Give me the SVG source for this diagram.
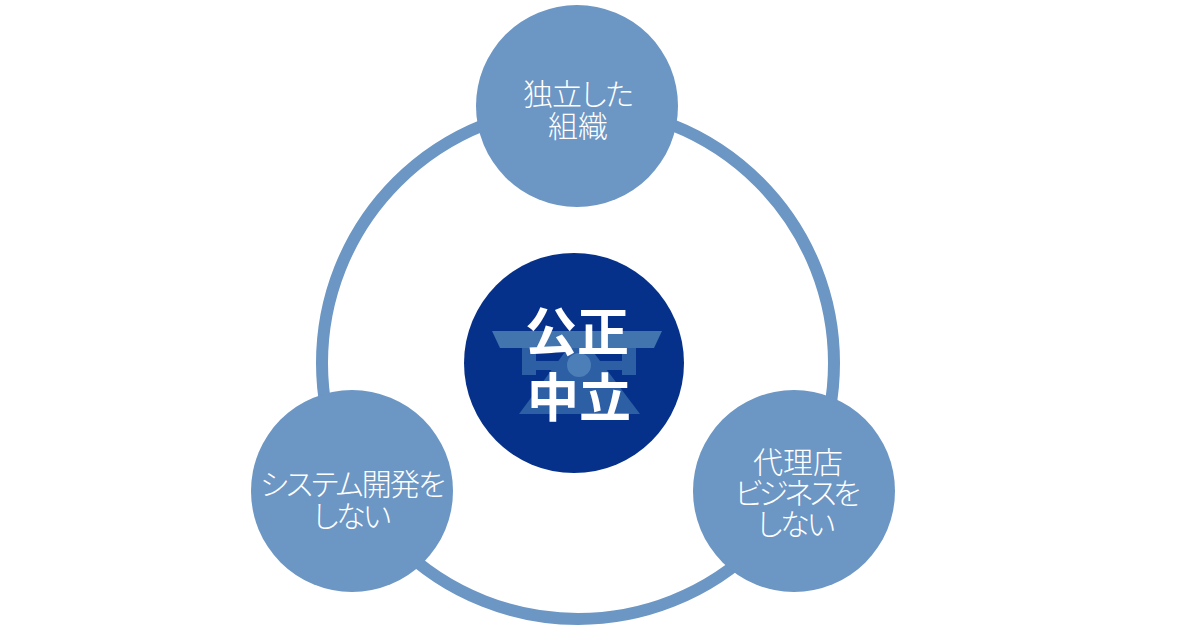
<svg xmlns="http://www.w3.org/2000/svg" width="1200" height="630" viewBox="0 0 1200 630">
<style>
.sat{fill:#6c96c4}
.t{font-family:"Noto Sans CJK JP","Noto Sans",sans-serif;fill:#fff;text-anchor:middle}
.l{font-size:30px;font-weight:300;font-feature-settings:"palt"}
.b{font-size:52px;font-weight:700}
.e1{fill:#4274ad}
.e2{fill:#2d5fa5}
</style>
<rect width="1200" height="630" fill="#fff"/>
<g id="connectors"><circle cx="578" cy="363" r="256" fill="none" stroke="#6c96c4" stroke-width="12"/></g>
<g id="node-top"><circle class="sat" cx="577" cy="106" r="101"/>
<text class="t l" x="578" y="105" letter-spacing="-1">独立した</text><text class="t l" x="578" y="137">組織</text></g>
<g id="node-left"><circle class="sat" cx="352" cy="491" r="101"/>
<text class="t l" x="352" y="495" letter-spacing="-1.9">システム開発を</text><text class="t l" x="351" y="527" letter-spacing="-2.5">しない</text></g>
<g id="node-right"><circle class="sat" cx="794" cy="491" r="101"/>
<text class="t l" x="798" y="473">代理店</text><text class="t l" x="796" y="504" letter-spacing="-3.6">ビジネスを</text><text class="t l" x="795" y="535" letter-spacing="-2.5">しない</text></g>
<g id="node-center"><circle cx="574" cy="363" r="110" fill="#06318a"/>
<g id="emblem">
<path class="e2" d="M579 333 L640 414 H519Z"/>
<rect class="e2" x="522" y="345" width="14" height="30"/>
<rect class="e2" x="622" y="345" width="14" height="30"/>
<rect class="e2" x="522" y="361" width="114" height="9"/>
<path class="e1" d="M492 331 H662 L654 348 H500Z"/>
<circle cx="579" cy="365" r="12" fill="#4c7fb8"/>
</g>
<text class="t b" x="577" y="351">公正</text><text class="t b" x="579" y="417">中立</text></g>
</svg>
